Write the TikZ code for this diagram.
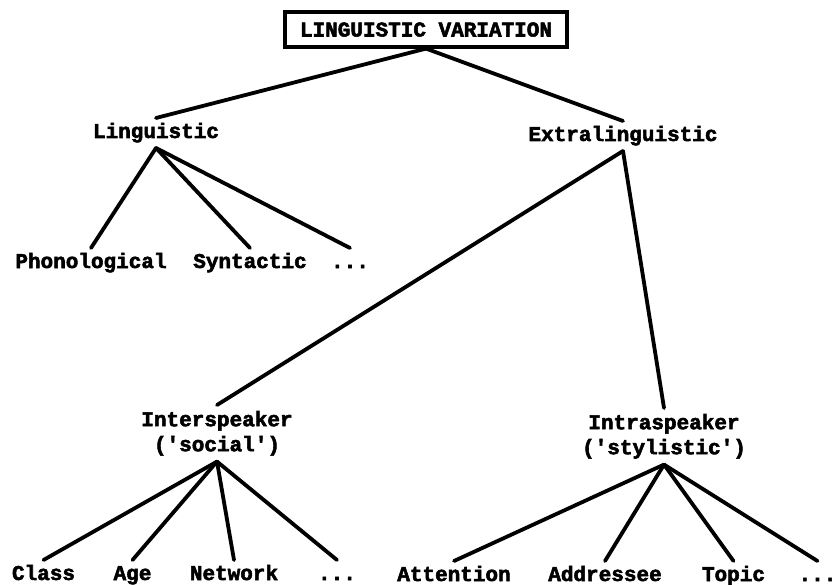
\documentclass[tikz,border=0pt]{standalone}
\usepackage{fontspec}
\newfontfamily\tw[BoldFeatures={FakeBold=2.6}]{Liberation Mono}
\begin{document}
\begin{tikzpicture}[x=1pt,y=-1pt,
  lbl/.style={font=\tw\bfseries\fontsize{21}{25}\selectfont, inner sep=0pt, outer xsep=0pt, outer ysep=6pt, text height=14pt, text depth=4pt, anchor=north},
  lbl2/.style={font=\tw\bfseries\fontsize{21}{25}\selectfont, inner sep=0pt, outer xsep=0pt, outer ysep=6pt, align=center, anchor=north},
  rootbox/.style={draw, line width=3.2pt, font=\tw\bfseries\fontsize{21}{25}\selectfont, inner sep=0pt, minimum width=282pt, minimum height=35pt, text height=14pt, text depth=0pt},
  branch/.style={line width=3.8pt, line cap=round}]
\useasboundingbox (0,0) rectangle (837,585);
% nodes
\node[rootbox] (root) at (426,29.5) {LINGUISTIC VARIATION};
\node[lbl] (ling) at (156,118) {Linguistic};
\node[lbl] (extra) at (623,121) {Extralinguistic};
\node[lbl] (phon) at (91,248) {Phonological};
\node[lbl] (synt) at (250,248) {Syntactic};
\node[lbl] (ldots) at (350,248) {...};
\node[lbl2] (inter) at (217,405) {\rule{0pt}{14pt}Interspeaker\\('social')};
\node[lbl2] (intra) at (664,408) {\rule{0pt}{14pt}Intraspeaker\\('stylistic')};
\node[lbl] (class) at (43.5,560) {Class};
\node[lbl] (age) at (132.5,560) {Age};
\node[lbl] (netw) at (234,560) {Network};
\node[lbl] (idots) at (337,560) {...};
\node[lbl] (atten) at (454,561) {Attention};
\node[lbl] (addr) at (605,561) {Addressee};
\node[lbl] (topic) at (733.5,561) {Topic};
\node[lbl] (sdots) at (817.5,561) {...};
% connectors
\draw[branch] (root.south) -- (ling.north);
\draw[branch] (root.south) -- (extra.north);
\draw[branch] (ling.south) -- (phon.north);
\draw[branch] (ling.south) -- (synt.north);
\draw[branch] (ling.south) -- (ldots.north);
\draw[branch] (extra.south) -- (inter.north);
\draw[branch] (extra.south) -- (intra.north);
\draw[branch] (inter.south) -- (class.north);
\draw[branch] (inter.south) -- (age.north);
\draw[branch] (inter.south) -- (netw.north);
\draw[branch] (inter.south) -- (idots.north);
\draw[branch] (intra.south) -- (atten.north);
\draw[branch] (intra.south) -- (addr.north);
\draw[branch] (intra.south) -- (topic.north);
\draw[branch] (intra.south) -- (sdots.north);
\end{tikzpicture}
\end{document}
